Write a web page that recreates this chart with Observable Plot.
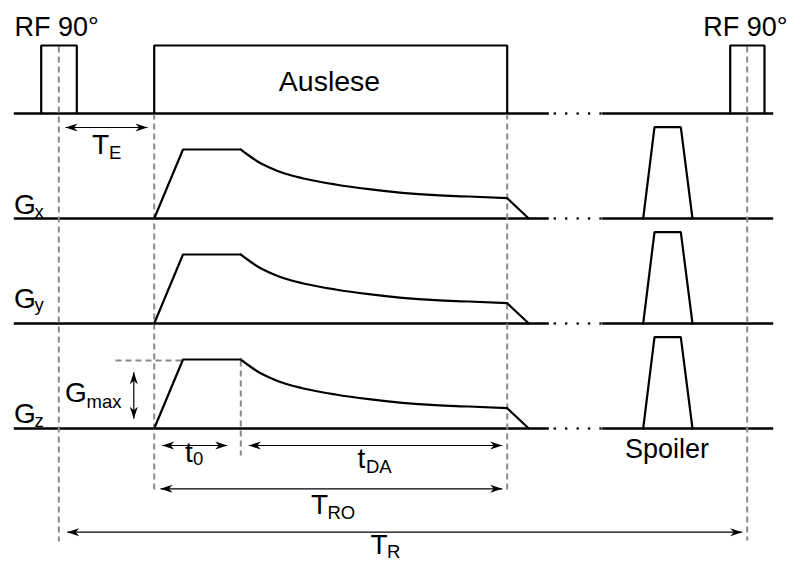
<!DOCTYPE html>
<html>
<head>
<meta charset="utf-8">
<script src="https://cdn.jsdelivr.net/npm/d3@7"></script>
<script src="https://cdn.jsdelivr.net/npm/@observablehq/plot@0.6"></script>
<style>
  body { margin: 0; background: #fff; }
  #chart svg { display: block; }
</style>
</head>
<body>
<div id="chart"></div>
<script>
// ---- Sequence timing (horizontal axis, time units) ----
const lineStart = 13.3, lineEnd = 772.7;          // extent of every channel line
const gapStart = 548.3, gapEnd = 601.7;           // omitted part of the repetition
const gapDots = [554.3, 565.7, 577.2, 588.6, 600];

// ---- Channels (vertical position of each zero line) ----
const channelNames = ["RF", "Gx", "Gy", "Gz"];
const channelZero = [113, 218, 323, 428];

// ---- RF channel: excitation pulses and readout window (time, amplitude) ----
const rfPulse1T = [40.7, 40.7, 76.3, 76.3];
const rfPulse2T = [729.7, 729.7, 764, 764];
const rfPulseA = [0, 68, 68, 0];
const readoutT = [153.7, 153.7, 506.7, 506.7];
const readoutA = [0, 68, 68, 0];

// ---- Readout gradient: ramp up and plateau at Gmax ----
const rampT = [153.7, 182.5, 240.3];
const rampA = [0, 69, 69];
// decaying gradient amplitude during data acquisition
const decayT = [240.3, 248.3, 258.3, 268.3, 285, 301.7, 335, 368.3, 401.7, 435, 468.3, 506.7];
const decayA = [69, 63, 56.3, 51.3, 44.7, 40.3, 34, 29.3, 25.7, 23.3, 22, 20.3];
// ramp down
const rampDownT = [506.7, 528.3];
const rampDownA = [20.3, 0];

// ---- Spoiler gradient ----
const spoilerT = [642.7, 654, 680.3, 692];
const spoilerA = [0, 91.3, 91.3, 0];

// ---- Timing markers (dashed) ----
const markerT = [58.3, 153.7, 506.7, 746.7];
const markerTop = [46, 113, 113, 46];
const markerBottom = [541, 489, 489, 540];
const t0EndT = 240.3, t0EndTop = 360, t0EndBottom = 455;
const gmaxRefT = [115, 182.5], gmaxRefY = 360;

// ---- Double arrows for time spans ----
const spanNames = ["TE", "t0", "tDA", "TRO", "TR"];
const spanFrom = [65, 161.7, 248.3, 160, 66.7];
const spanTo = [147, 226.7, 501.7, 501.7, 741.7];
const spanY = [127, 445, 445, 488.3, 531.7];
// vertical arrow for Gmax
const gmaxArrowT = 133.3, gmaxArrowFrom = 371.7, gmaxArrowTo = 418.3;

// ---- Plain labels ----
const rfText = "RF 90°";
const rfLeftX = 14, rfRightX = 787, rfY = 35;
const auslese = "Auslese", ausleseX = 329, ausleseY = 90;
const spoiler = "Spoiler", spoilerX = 666.5, spoilerY = 457;
const bigSize = 27;

// ---- Labels with subscripts ----
const symText = ["T", "G", "G", "G", "G", "t", "t", "T", "T"];
const subText = ["E", "x", "y", "z", "max", "0", "DA", "RO", "R"];
const symX = [91.5, 13.5, 13.5, 13.5, 64.5, 184.5, 357, 310.5, 370];
const symY = [153, 213, 307, 422, 401.5, 461.5, 467, 513, 553.5];
const subX = [108.5, 34, 34, 34, 86, 192.5, 365.5, 327, 386.5];
const subY = [158, 217, 310, 426, 407, 464, 472, 518, 557.5];
const symSize = 28, subSize = 18.5;

// ---- Build tables for the marks ----
const waveRows = [];
function addWave(key, zero, ts, as) {
  ts.forEach((t, i) => waveRows.push({key, t, y: zero - as[i]}));
}
addWave("rf1", channelZero[0], rfPulse1T, rfPulseA);
addWave("ro", channelZero[0], readoutT, readoutA);
addWave("rf2", channelZero[0], rfPulse2T, rfPulseA);
const decayRows = [];
const rampDownRows = [];
channelNames.slice(1).forEach((name, j) => {
  const zero = channelZero[j + 1];
  addWave(name + "-ramp", zero, rampT, rampA);
  addWave(name + "-spoil", zero, spoilerT, spoilerA);
  rampDownT.forEach((t, i) => rampDownRows.push({key: name, t, y: zero - rampDownA[i]}));
  decayT.forEach((t, i) => decayRows.push({key: name, t, y: zero - decayA[i]}));
});

const baseRows = [];
channelZero.forEach(z => {
  baseRows.push({x1: lineStart, x2: gapStart, y: z});
  baseRows.push({x1: gapEnd, x2: lineEnd, y: z});
});
const dotRows = [];
channelZero.forEach(z => gapDots.forEach(t => dotRows.push({t, y: z})));

const dashRows = markerT.map((t, i) => ({x1: t, y1: markerTop[i], x2: t, y2: markerBottom[i]}));
dashRows.push({x1: t0EndT, y1: t0EndTop, x2: t0EndT, y2: t0EndBottom});
dashRows.push({x1: gmaxRefT[0], y1: gmaxRefY, x2: gmaxRefT[1], y2: gmaxRefY});

const arrowRows = spanNames.map((n, i) => ({x1: spanFrom[i], y1: spanY[i], x2: spanTo[i], y2: spanY[i]}));
arrowRows.push({x1: gmaxArrowT, y1: gmaxArrowFrom, x2: gmaxArrowT, y2: gmaxArrowTo});

// filled, notched arrowhead pointing along (dx, dy) with its tip at the anchor
function head(dx, dy) {
  const L = 12, N = 8.5, W = 4;
  const px = -dy, py = dx;
  const pts = [
    [0, 0],
    [-L * dx + W * px, -L * dy + W * py],
    [-N * dx, -N * dy],
    [-L * dx - W * px, -L * dy - W * py]
  ];
  return {
    draw(ctx) {
      ctx.moveTo(pts[0][0], pts[0][1]);
      for (let k = 1; k < pts.length; ++k) ctx.lineTo(pts[k][0], pts[k][1]);
      ctx.closePath();
    }
  };
}
const headsLeft = arrowRows.filter(d => d.y1 === d.y2).map(d => ({t: d.x1, y: d.y1}));
const headsRight = arrowRows.filter(d => d.y1 === d.y2).map(d => ({t: d.x2, y: d.y2}));
const headsUp = [{t: gmaxArrowT, y: gmaxArrowFrom}];
const headsDown = [{t: gmaxArrowT, y: gmaxArrowTo}];

const symRows = symText.map((s, i) => ({s, x: symX[i], y: symY[i]}));
const subRows = subText.map((s, i) => ({s, x: subX[i], y: subY[i]}));

const font = "'Liberation Sans', Arial, Helvetica, sans-serif";
const dashColor = "#8a8a8a";

const headMark = (data, sym) => Plot.dot(data, {x: "t", y: "y", symbol: sym, r: 4, fill: "black", stroke: "none"});
const label = (s, x, y, anchor, size) =>
  Plot.text([s], {x: () => x, y: () => y, text: d => d, textAnchor: anchor, fontSize: size, lineAnchor: "bottom", fill: "black"});

const chart = Plot.plot({
  width: 788,
  height: 562,
  margin: 0,
  x: {domain: [0, 788], range: [0, 788], axis: null},
  y: {domain: [0, 562], range: [0, 562], axis: null},
  style: {fontFamily: font, background: "white", color: "black"},
  marks: [
    // channel zero lines
    Plot.link(baseRows, {x1: "x1", x2: "x2", y1: "y", y2: "y", stroke: "black", strokeWidth: 2.6}),
    Plot.dot(dotRows, {x: "t", y: "y", symbol: "square", r: 1.3, fill: "black", stroke: "none"}),
    // timing markers
    Plot.link(dashRows, {x1: "x1", y1: "y1", x2: "x2", y2: "y2", stroke: dashColor, strokeWidth: 2, strokeDasharray: "6,4"}),
    // waveforms
    Plot.line(waveRows, {x: "t", y: "y", z: "key", stroke: "black", strokeWidth: 2.2, strokeLinejoin: "miter"}),
    Plot.line(decayRows, {x: "t", y: "y", z: "key", stroke: "black", strokeWidth: 2.2, curve: "monotone-x"}),
    Plot.line(rampDownRows, {x: "t", y: "y", z: "key", stroke: "black", strokeWidth: 2.2}),
    // time-span arrows
    Plot.link(arrowRows, {x1: "x1", y1: "y1", x2: "x2", y2: "y2", stroke: "black", strokeWidth: 1.2}),
    headMark(headsLeft, head(-1, 0)),
    headMark(headsRight, head(1, 0)),
    headMark(headsUp, head(0, -1)),
    headMark(headsDown, head(0, 1)),
    // labels
    label(rfText, rfLeftX, rfY, "start", bigSize),
    label(rfText, rfRightX, rfY, "end", bigSize),
    label(auslese, ausleseX, ausleseY, "middle", 28.5),
    label(spoiler, spoilerX, spoilerY, "middle", bigSize),
    Plot.text(symRows, {x: "x", y: "y", text: "s", textAnchor: "start", fontSize: symSize, lineAnchor: "bottom", fill: "black"}),
    Plot.text(subRows, {x: "x", y: "y", text: "s", textAnchor: "start", fontSize: subSize, lineAnchor: "bottom", fill: "black"})
  ]
});
document.getElementById("chart").appendChild(chart);
</script>
</body>
</html>
